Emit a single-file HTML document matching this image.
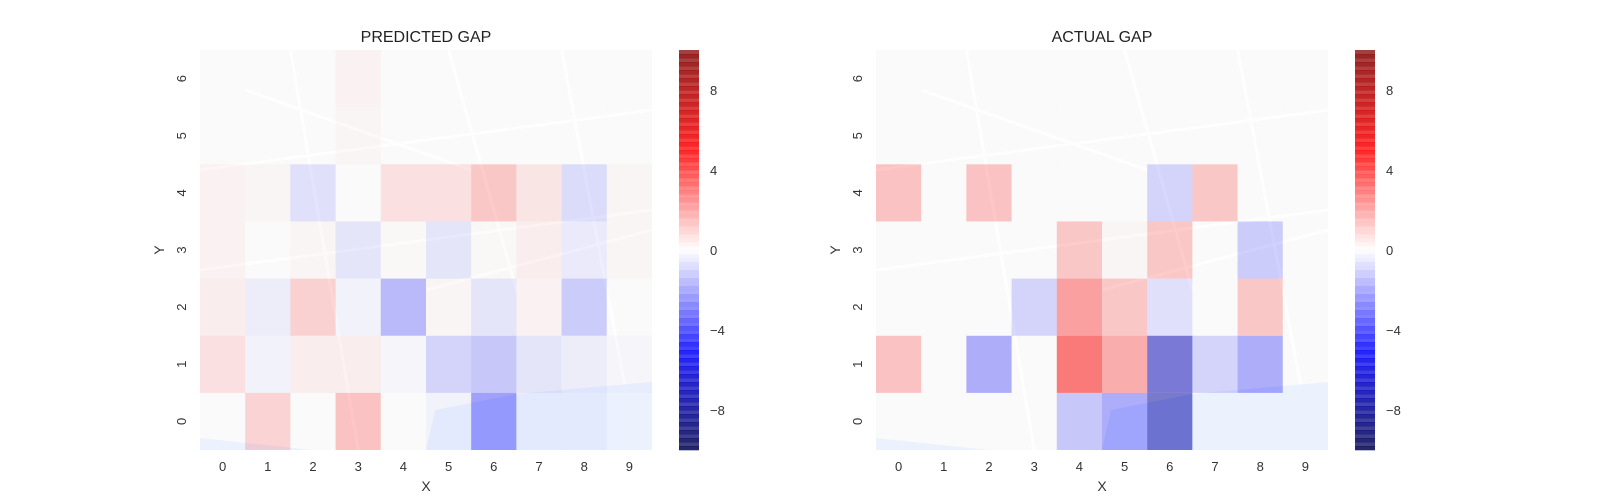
<!DOCTYPE html>
<html><head><meta charset="utf-8"><style>
html,body{margin:0;padding:0;background:#fff;}
svg{display:block;font-family:"Liberation Sans",sans-serif;}
</style></head><body>
<svg id="fig" width="1600" height="500" viewBox="0 0 1600 500"></svg>
<script>
const xCats=[0,1,2,3,4,5,6,7,8,9];
const yCats=[0,1,2,3,4,5,6];
const cbTicks=[8,4,0,-4,-8];
// rows from y=0 (bottom) to y=6 (top)
const predY0=[0,1.5,0,2.2,0,-0.3,-3.5,-0.3,-0.3,0];
const predY1=[1,-0.3,0.5,0.5,-0.2,-1.5,-2,-0.8,-0.5,-0.2];
const predY2=[0.5,-0.5,1.6,-0.3,-2.5,0.2,-0.8,0.3,-1.8,0];
const predY3=[0.3,0,0.2,-0.8,0.1,-0.8,0.1,0.5,-0.6,0.2];
const predY4=[0.3,0.2,-1,0,1,1,2,0.8,-1.2,0.2];
const predY5=[0,0,0,0.2,0,0,0,0,0,0];
const predY6=[0,0,0,0.3,0,0,0,0,0,0];
const actY0=[0,0,0,0,-2,-3,-7.5,0,0,0];
const actY1=[2.2,0,-3,0,5,3,-7,-1.5,-3,0];
const actY2=[0,0,0,-1.5,3.5,2,-1,0,2,0];
const actY3=[0,0,0,0,2,0.2,2,0,-1.8,0];
const actY4=[2.2,0,2.2,0,0,0,-1.5,2,0,0];
const actY5=[0,0,0,0,0,0,0,0,0,0];
const actY6=[0,0,0,0,0,0,0,0,0,0];
const predRows=[predY0,predY1,predY2,predY3,predY4,predY5,predY6];
const actRows=[actY0,actY1,actY2,actY3,actY4,actY5,actY6];
const vmin=-10,vmax=10;
const NS='http://www.w3.org/2000/svg';
const svg=document.getElementById('fig');
function mk(tag,attrs,parent){const e=document.createElementNS(NS,tag);for(const k in attrs)e.setAttribute(k,attrs[k]);(parent||svg).appendChild(e);return e;}
function seismic(v){let t=(v-vmin)/(vmax-vmin);t=Math.max(0,Math.min(1,t));
 let r,g,b;
 if(t<0.25){const u=t/0.25;r=0;g=0;b=0.3+0.7*u;}
 else if(t<0.5){const u=(t-0.25)/0.25;r=u;g=u;b=1;}
 else if(t<0.75){const u=(t-0.5)/0.25;r=1;g=1-u;b=1-u;}
 else{const u=(t-0.75)/0.25;r=1-0.5*u;g=0;b=0;}
 return `rgb(${Math.round(r*255)},${Math.round(g*255)},${Math.round(b*255)})`;}
function panel(x0,title,rows,cbx,name){
 const y0=50,W=452,H=400,cw=W/xCats.length,ch=H/yCats.length;
 const sx=i=>x0+i*cw, sy=j=>y0+H-(j+1)*ch;
 const g=mk('g',{});
 
 const bg=mk('rect',{x:x0,y:y0,width:W,height:H,fill:'#f4f4f4'},g);
 
 const roads=[[0,0.3,1,0.15],[0,0.55,1,0.4],[0.2,0,0.35,1],[0.55,0,0.7,0.6],[0.1,0.1,0.6,0.3],[0.5,0.6,1,0.45],[0.8,0,0.95,0.9]];
 roads.forEach(r=>{const l=mk('line',{x1:x0+r[0]*W,y1:y0+r[1]*H,x2:x0+r[2]*W,y2:y0+r[3]*H,stroke:'#fcfcfc','stroke-width':3},g);});
 const water=mk('path',{d:`M${x0+0.5*W} ${y0+H} L${x0+0.52*W} ${y0+0.9*H} L${x0+0.7*W} ${y0+0.86*H} L${x0+W} ${y0+0.83*H} L${x0+W} ${y0+H} Z M${x0} ${y0+H} L${x0} ${y0+0.97*H} L${x0+0.25*W} ${y0+H} Z`,fill:'#d8e5fa'},g);
 
 rows.forEach((row,j)=>row.forEach((v,i)=>{
  const c=mk('rect',{x:sx(i),y:sy(j),width:cw,height:ch,fill:seismic(v),'fill-opacity':0.5},g);
  
  
 }));
 const t=mk('text',{x:x0+W/2,y:42,'text-anchor':'middle','font-size':16,fill:'#222'},g);t.textContent=title;
 
 xCats.forEach((c,i)=>{const e=mk('text',{x:sx(i)+cw/2,y:471,'text-anchor':'middle','font-size':13,fill:'#333'},g);e.textContent=c;
  });
 yCats.forEach((c,j)=>{const cy=sy(j)+ch/2;const e=mk('text',{x:x0-14,y:cy,'text-anchor':'middle','font-size':13,fill:'#333',transform:`rotate(-90 ${x0-14} ${cy})`},g);e.textContent=c;
  });
 const xl=mk('text',{x:x0+W/2,y:491,'text-anchor':'middle','font-size':14,fill:'#333'},g);xl.textContent='X';
 
 const yl=mk('text',{x:x0-36,y:y0+H/2,'text-anchor':'middle','font-size':14,fill:'#333',transform:`rotate(-90 ${x0-36} ${y0+H/2})`},g);yl.textContent='Y';
 
 const cb=mk('g',{},g);
 const cy=v=>y0+H-(v-vmin)/(vmax-vmin)*H;
 const n=100;for(let k=0;k<n;k++){const v=vmin+(k+0.5)*(vmax-vmin)/n;
  const s=mk('rect',{x:cbx,y:cy(vmin+(k+1)*(vmax-vmin)/n),width:20,height:H/n+0.3,fill:seismic(v),'fill-opacity':(k%2?0.75:0.85)},cb);
  }
 cbTicks.forEach(v=>{const e=mk('text',{x:cbx+31,y:cy(v)+5,'font-size':13,fill:'#333'},cb);e.textContent=v<0?'\u2212'+(-v):v;
  });
}
panel(200,'PREDICTED GAP',predRows,679,'predicted-gap');
panel(876,'ACTUAL GAP',actRows,1355,'actual-gap');
</script>
</body></html>
